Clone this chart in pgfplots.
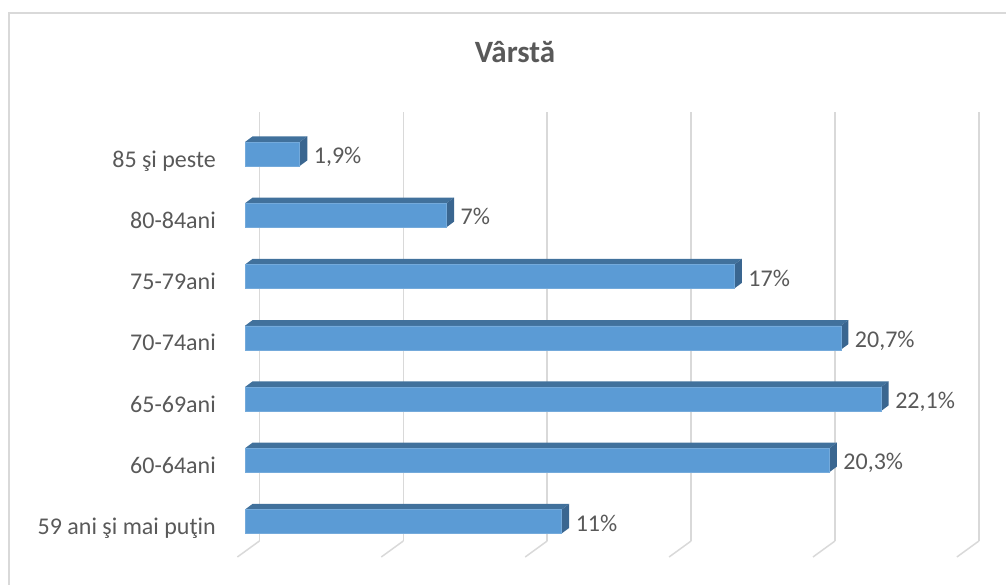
\documentclass[border=0pt]{standalone}
\usepackage{pgfplots}
\usepackage{pgfplotstable}
\pgfplotsset{compat=1.18}
\usepackage{fontspec}
\setmainfont{Carlito}
\definecolor{frontblue}{HTML}{5B9BD5}
\definecolor{topblue}{HTML}{41719C}
\definecolor{sideblue}{HTML}{3A6690}
\definecolor{gridgray}{HTML}{D9D9D9}
\definecolor{txtgray}{HTML}{595959}
\pgfplotstableread{
y v lab
0 11 11\%
1 20.3 20,3\%
2 22.1 22,1\%
3 20.7 20,7\%
4 17 17\%
5 7 7\%
6 1.9 1,9\%
}\data
% corners of the top face and of the side face of a bar
\pgfplotstableread{
a c s d
0 0 1 0
1 0 1 0
1 1 1 1
0 1 1 1
}\topface
\pgfplotstableread{
a c s d
1 0 -1 0
1 1 -1 1
1 1 1 1
1 0 1 0
}\sideface
\begin{document}
\begin{tikzpicture}
\useasboundingbox (0pt,0pt) rectangle (1006pt,585pt);
\draw[gridgray, line width=2pt] (9pt,-5pt) -- (9pt,572pt) -- (1012pt,572pt);
\begin{axis}[
  at={(245pt,44pt)}, anchor=south west,
  x=28.78pt, y=61.25pt,
  xmin=0, xmax=26, ymin=-0.318, ymax=6.686,
  clip=false,
  axis line style={draw=none},
  major tick length=0pt,
  xtick={0.5,5.5,10.5,15.5,20.5,25.5},
  xticklabels={},
  xmajorgrids,
  grid style={gridgray, line width=1.5pt},
  ytick={0,1,2,3,4,5,6},
  yticklabels={59 ani şi mai puţin,60-64ani,65-69ani,70-74ani,75-79ani,80-84ani,85 şi peste},
  yticklabel style={anchor=base east, inner sep=0pt, xshift=-29pt, yshift=-13pt,
    font=\fontsize{24}{29}\selectfont, text=txtgray},
]
% floor lines
\addplot[gridgray, line width=1.5pt] coordinates {(0.5,-0.318) (-0.264,-0.579)};
\addplot[gridgray, line width=1.5pt] coordinates {(5.5,-0.318) (4.736,-0.579)};
\addplot[gridgray, line width=1.5pt] coordinates {(10.5,-0.318) (9.736,-0.579)};
\addplot[gridgray, line width=1.5pt] coordinates {(15.5,-0.318) (14.736,-0.579)};
\addplot[gridgray, line width=1.5pt] coordinates {(20.5,-0.318) (19.736,-0.579)};
\addplot[gridgray, line width=1.5pt] coordinates {(25.5,-0.318) (24.736,-0.579)};
% depth faces, computed from each bar's value
\pgfplotsinvokeforeach{0,...,6}{
  \pgfplotstablegetelem{#1}{v}\of\data
  \edef\barval{\pgfplotsretval}
  \edef\temp{\noexpand\addplot[fill=topblue, draw=none]
    table[x expr={\noexpand\thisrow{a}*\barval+\noexpand\thisrow{c}*0.264},
          y expr={#1+\noexpand\thisrow{s}*0.196+\noexpand\thisrow{d}*0.092}] {\noexpand\topface};
    \noexpand\addplot[fill=sideblue, draw=none]
    table[x expr={\noexpand\thisrow{a}*\barval+\noexpand\thisrow{c}*0.264},
          y expr={#1+\noexpand\thisrow{s}*0.196+\noexpand\thisrow{d}*0.092}] {\noexpand\sideface};}
  \temp
}
% front faces
\addplot[xbar, bar width=24pt, bar shift=0pt, fill=frontblue, draw=frontblue!85!white, line width=0.4pt,
  point meta=explicit symbolic,
  nodes near coords,
  nodes near coords style={anchor=base west, inner sep=0pt, xshift=14pt, yshift=-9.5pt,
    font=\fontsize{24}{29}\selectfont, text=txtgray}]
  table[x=v, y=y, meta=lab] {\data};
\end{axis}
\node[text=txtgray, font=\bfseries\fontsize{31}{36}\selectfont, anchor=base] at (515pt,522pt) {Vârstă};
\end{tikzpicture}
\end{document}
